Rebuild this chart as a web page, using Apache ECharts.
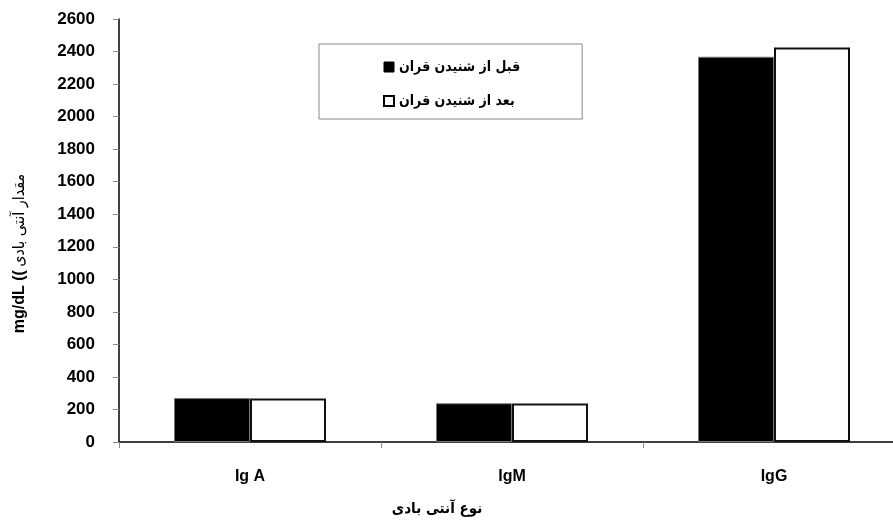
<!DOCTYPE html>
<html>
<head>
<meta charset="utf-8">
<script src="https://cdn.jsdelivr.net/npm/echarts@6/dist/echarts.min.js"></script>
<style>html,body{margin:0;padding:0;background:#fff}#c{width:893px;height:527px}</style>
</head>
<body>
<div id="c"></div>
<script>
const categories = ['Ig A', 'IgM', 'IgG'];
const seriesNames = ['قبل از شنیدن قران', 'بعد از شنیدن قران'];
const beforeValues = [270, 238, 2368];
const afterValues = [268, 236, 2425];
const yTicks = { min: 0, max: 2600, interval: 200 };
const xAxisTitle = 'نوع آنتی بادی';
const yAxisTitleUnit = 'mg/dL ((';
const yAxisTitleText = 'مقدار آنتی بادی';

const chart = echarts.init(document.getElementById('c'), null, { renderer: 'canvas' });
const fa = 'DejaVu Sans Condensed, DejaVu Sans';
const la = 'Liberation Sans, Arial, sans-serif';
chart.setOption({
  animation: false,
  backgroundColor: '#fff',
  grid: { left: 119, top: 19, height: 423, width: 786, containLabel: false, outerBoundsMode: 'none' },
  legend: {
    orient: 'vertical',
    left: 319, top: 44,
    padding: [16, 62, 11, 64],
    itemGap: 20,
    itemWidth: 10, itemHeight: 10,
    borderColor: '#888', borderWidth: 1,
    textStyle: { fontFamily: fa, fontWeight: 'bold', fontSize: 14, color: '#000' },
    data: [
      { name: seriesNames[0], icon: 'rect', itemStyle: { color: '#000', borderColor: '#000', borderWidth: 1 } },
      { name: seriesNames[1], icon: 'rect', itemStyle: { color: '#fff', borderColor: '#000', borderWidth: 2 } }
    ]
  },
  xAxis: {
    type: 'category',
    data: categories,
    name: xAxisTitle,
    nameLocation: 'middle',
    nameGap: 60,
    nameTextStyle: { fontFamily: fa, fontWeight: 'bold', fontSize: 15, color: '#000', padding: [0, 150, 0, 0] },
    axisLine: { lineStyle: { color: '#000', width: 1.5 } },
    axisTick: { show: true, length: 6, lineStyle: { color: '#888' } },
    axisLabel: { margin: 27, fontFamily: la, fontWeight: 'bold', fontSize: 16, color: '#000' }
  },
  yAxis: {
    type: 'value',
    min: yTicks.min, max: yTicks.max, interval: yTicks.interval,
    name: '{a|' + yAxisTitleUnit + '} {b|' + yAxisTitleText + '}',
    nameLocation: 'middle',
    nameGap: 91,
    nameTextStyle: {
      padding: [0, 46, 0, 0],
      rich: {
        a: { fontFamily: la, fontWeight: 'bold', fontSize: 16, color: '#000' },
        b: { fontFamily: fa, fontWeight: 'normal', fontSize: 16, color: '#000' }
      }
    },
    splitLine: { show: false },
    axisLine: { show: true, lineStyle: { color: '#000', width: 1.5 } },
    axisTick: { show: true, length: 6, lineStyle: { color: '#888' } },
    axisLabel: {
      margin: 24, fontFamily: la, fontWeight: 'bold', fontSize: 17, color: '#000',
      formatter: function (v) { return String(v); }
    }
  },
  series: [
    {
      name: seriesNames[0], type: 'bar', data: beforeValues,
      barWidth: 76, barGap: '0%',
      itemStyle: { color: '#000', borderColor: '#777', borderWidth: 1 }
    },
    {
      name: seriesNames[1], type: 'bar', data: afterValues,
      barWidth: 76, barGap: '0%',
      itemStyle: { color: '#fff', borderColor: '#111', borderWidth: 2 }
    }
  ]
});
</script>
</body>
</html>
